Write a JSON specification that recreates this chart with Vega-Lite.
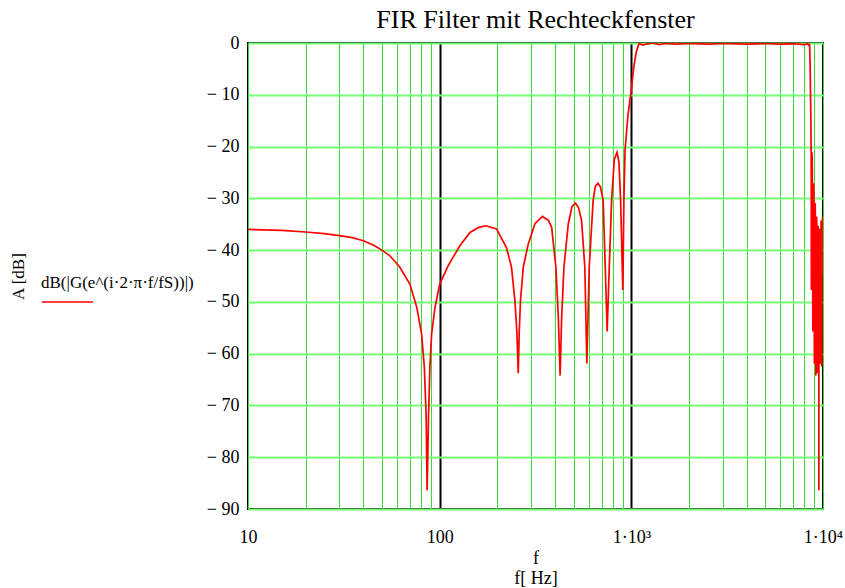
{
  "$schema": "https://vega.github.io/schema/vega-lite/v6.json",
  "width": 575,
  "height": 466,
  "autosize": "none",
  "padding": {"left": 248, "top": 43, "right": 22, "bottom": 79},
  "background": "white",
  "title": {"text": "FIR Filter mit Rechteckfenster", "font": "Liberation Serif", "fontSize": 26, "fontWeight": "normal", "color": "black", "offset": 1, "anchor": "middle"},
  "config": {"view": {"stroke": "black", "strokeWidth": 2}},
  "data": {"values": [
    {"f": 10, "dB": -36.0}, {"f": 15, "dB": -36.2}, {"f": 20, "dB": -36.5}, {"f": 25, "dB": -36.8}, {"f": 30, "dB": -37.2},
    {"f": 35, "dB": -37.6}, {"f": 40, "dB": -38.2}, {"f": 45, "dB": -39.0}, {"f": 50, "dB": -40.0}, {"f": 55, "dB": -41.1},
    {"f": 62, "dB": -43.3}, {"f": 70, "dB": -46.6}, {"f": 76, "dB": -51.1}, {"f": 80.5, "dB": -56.2}, {"f": 83.2, "dB": -62.7},
    {"f": 85, "dB": -72}, {"f": 86, "dB": -86.4}, {"f": 87.5, "dB": -72}, {"f": 88.9, "dB": -62.7}, {"f": 90.8, "dB": -56.2},
    {"f": 94.5, "dB": -51.1}, {"f": 100, "dB": -46.6}, {"f": 110.8, "dB": -43.0}, {"f": 127.7, "dB": -39.1}, {"f": 144, "dB": -36.6},
    {"f": 160, "dB": -35.6}, {"f": 174, "dB": -35.3}, {"f": 198, "dB": -35.9}, {"f": 223, "dB": -39.5}, {"f": 237, "dB": -43.3},
    {"f": 247, "dB": -49.8}, {"f": 253, "dB": -56}, {"f": 257, "dB": -63.8}, {"f": 260, "dB": -56}, {"f": 264, "dB": -49.8},
    {"f": 273, "dB": -43.3}, {"f": 290, "dB": -38.8}, {"f": 314, "dB": -34.9}, {"f": 344, "dB": -33.5}, {"f": 370, "dB": -34.3},
    {"f": 384, "dB": -35.6}, {"f": 404, "dB": -43.3}, {"f": 416, "dB": -53}, {"f": 425, "dB": -64.2}, {"f": 433, "dB": -53},
    {"f": 445, "dB": -43.3}, {"f": 469, "dB": -34.9}, {"f": 490, "dB": -31.6}, {"f": 511, "dB": -30.9}, {"f": 530, "dB": -31.8},
    {"f": 550, "dB": -34.3}, {"f": 572, "dB": -43.3}, {"f": 586, "dB": -61.9}, {"f": 603, "dB": -43.3}, {"f": 632, "dB": -30.4},
    {"f": 650, "dB": -27.6}, {"f": 670, "dB": -27.1}, {"f": 690, "dB": -27.8}, {"f": 713, "dB": -30.4}, {"f": 731, "dB": -43.3},
    {"f": 748, "dB": -55.7}, {"f": 767, "dB": -43.3}, {"f": 789, "dB": -30.4}, {"f": 815, "dB": -22.5}, {"f": 842, "dB": -21.1},
    {"f": 862, "dB": -23}, {"f": 879, "dB": -30.4}, {"f": 903, "dB": -47.7}, {"f": 915, "dB": -30}, {"f": 927, "dB": -20.7},
    {"f": 960, "dB": -14}, {"f": 1000, "dB": -9}, {"f": 1030, "dB": -4.6}, {"f": 1060, "dB": -1.8}, {"f": 1097, "dB": -0.1},
    {"f": 1150, "dB": -0.4}, {"f": 1200, "dB": -0.2}, {"f": 1300, "dB": 0}, {"f": 1400, "dB": -0.3}, {"f": 1500, "dB": -0.1},
    {"f": 1700, "dB": -0.2}, {"f": 2000, "dB": -0.1}, {"f": 2500, "dB": -0.2}, {"f": 3000, "dB": -0.1}, {"f": 4000, "dB": -0.2},
    {"f": 5000, "dB": -0.1}, {"f": 6000, "dB": -0.2}, {"f": 7000, "dB": -0.15}, {"f": 8000, "dB": -0.3}, {"f": 8300, "dB": -0.2},
    {"f": 8450, "dB": -0.5}, {"f": 8503, "dB": -0.1}, {"f": 8540, "dB": -1.8}, {"f": 8570, "dB": -4.6}, {"f": 8600, "dB": -9},
    {"f": 8640, "dB": -14}, {"f": 8673, "dB": -20.7}, {"f": 8685, "dB": -30}, {"f": 8697, "dB": -47.7}, {"f": 8721, "dB": -30.4},
    {"f": 8738, "dB": -23}, {"f": 8758, "dB": -21.1}, {"f": 8785, "dB": -22.5}, {"f": 8811, "dB": -30.4}, {"f": 8833, "dB": -43.3},
    {"f": 8852, "dB": -55.7}, {"f": 8869, "dB": -43.3}, {"f": 8887, "dB": -30.4}, {"f": 8910, "dB": -27.8}, {"f": 8930, "dB": -27.1},
    {"f": 8950, "dB": -27.6}, {"f": 8968, "dB": -30.4}, {"f": 8997, "dB": -43.3}, {"f": 9014, "dB": -61.9}, {"f": 9028, "dB": -43.3},
    {"f": 9050, "dB": -34.3}, {"f": 9070, "dB": -31.8}, {"f": 9089, "dB": -30.9}, {"f": 9110, "dB": -31.6}, {"f": 9131, "dB": -34.9},
    {"f": 9155, "dB": -43.3}, {"f": 9167, "dB": -53}, {"f": 9175, "dB": -64.2}, {"f": 9184, "dB": -53}, {"f": 9196, "dB": -43.3},
    {"f": 9216, "dB": -35.6}, {"f": 9230, "dB": -34.3}, {"f": 9256, "dB": -33.5}, {"f": 9286, "dB": -34.9}, {"f": 9310, "dB": -38.8},
    {"f": 9327, "dB": -43.3}, {"f": 9336, "dB": -49.8}, {"f": 9343, "dB": -63.8}, {"f": 9353, "dB": -49.8}, {"f": 9363, "dB": -43.3},
    {"f": 9377, "dB": -39.5}, {"f": 9402, "dB": -35.9}, {"f": 9426, "dB": -35.3}, {"f": 9456, "dB": -36.6}, {"f": 9472, "dB": -39.1},
    {"f": 9489, "dB": -43.0}, {"f": 9500, "dB": -46.6}, {"f": 9505, "dB": -51.1}, {"f": 9509, "dB": -56.2}, {"f": 9511, "dB": -62.7},
    {"f": 9514, "dB": -86.4}, {"f": 9517, "dB": -62.7}, {"f": 9520, "dB": -56.2}, {"f": 9524, "dB": -51.1}, {"f": 9530, "dB": -46.6},
    {"f": 9538, "dB": -43.3}, {"f": 9545, "dB": -41.1}, {"f": 9550, "dB": -40.0}, {"f": 9560, "dB": -38.2}, {"f": 9570, "dB": -37.2},
    {"f": 9590, "dB": -36.0}, {"f": 9620, "dB": -36.0}, {"f": 9650, "dB": -45}, {"f": 9686, "dB": -62}, {"f": 9720, "dB": -45},
    {"f": 9774, "dB": -34.3}, {"f": 9830, "dB": -43}, {"f": 9857, "dB": -62.5}, {"f": 9880, "dB": -43}, {"f": 9944, "dB": -33.5},
    {"f": 9980, "dB": -40}, {"f": 10000, "dB": -45}
  ]},
  "mark": {"type": "line", "strokeWidth": 1.7, "clip": true},
  "encoding": {
    "x": {
      "field": "f", "type": "quantitative",
      "scale": {"type": "log", "domain": [10, 10000], "nice": false},
      "axis": {
        "values": [10, 20, 30, 40, 50, 60, 70, 80, 90, 100, 200, 300, 400, 500, 600, 700, 800, 900, 1000, 2000, 3000, 4000, 5000, 6000, 7000, 8000, 9000, 10000],
        "labelExpr": "datum.value==10?'10':datum.value==100?'100':datum.value==1000?'1·10³':datum.value==10000?'1·10⁴':''",
        "ticks": false, "domain": false, "grid": true,
        "gridColor": {"condition": {"test": "datum.value==100||datum.value==1000", "value": "black"}, "value": "#33dd33"},
        "gridWidth": {"condition": {"test": "datum.value==100||datum.value==1000", "value": 2}, "value": 1},
        "labelFont": "Liberation Serif", "labelFontSize": 18, "labelColor": "black", "labelPadding": 19,
        "labelFlush": false, "labelOverlap": false,
        "title": ["f", "f[ Hz]"], "titleFont": "Liberation Serif", "titleFontSize": 18, "titleFontWeight": "normal",
        "titleColor": "black", "titlePadding": 3, "titleLineHeight": 20
      }
    },
    "y": {
      "field": "dB", "type": "quantitative",
      "scale": {"domain": [-90, 0], "nice": false},
      "axis": {
        "values": [-90, -80, -70, -60, -50, -40, -30, -20, -10, 0],
        "labelExpr": "datum.value<0 ? '− ' + (-datum.value) : '0'",
        "ticks": false, "domain": false, "grid": true, "gridColor": "#77ff77", "gridWidth": 1.8,
        "labelFont": "Liberation Serif", "labelFontSize": 18, "labelColor": "black", "labelPadding": 9,
        "title": "A [dB]", "titleFont": "Liberation Serif", "titleFontSize": 17, "titleFontWeight": "normal",
        "titleColor": "black", "titleX": -230, "titleY": 233, "titleAngle": -90, "titleBaseline": "middle", "titleAlign": "center"
      }
    },
    "color": {
      "datum": "dB(|G(e^(i·2·π·f/fS))|)",
      "scale": {"range": ["#ff0000"]},
      "legend": {
        "orient": "none", "legendX": -207, "legendY": 232,
        "title": "dB(|G(e^(i·2·π·f/fS))|)", "titleFont": "Liberation Serif", "titleFontSize": 17, "titleFontWeight": "normal",
        "titleColor": "black", "titlePadding": -16.5, "titleLimit": 300, "titleAnchor": "start",
        "symbolType": "stroke", "symbolSize": 2601, "symbolStrokeWidth": 1.5,
        "labelExpr": "''", "labelOffset": 0, "padding": 0
      }
    }
  }
}
